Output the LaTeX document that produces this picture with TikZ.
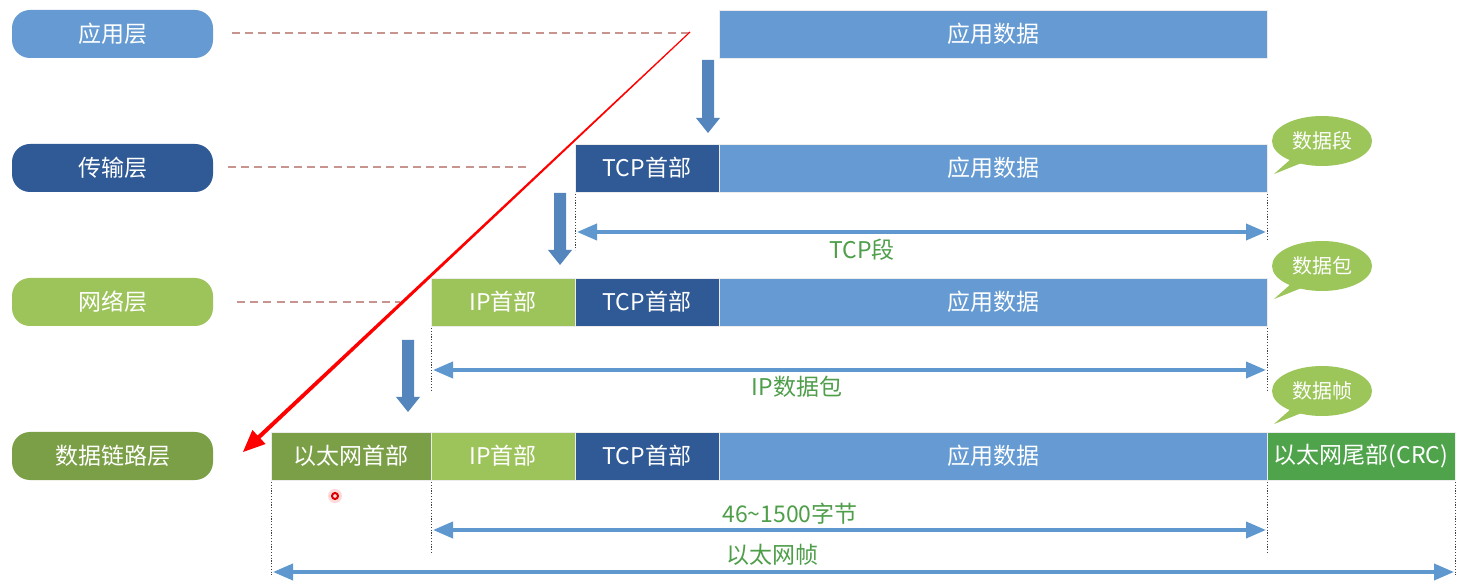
\documentclass[tikz,border=0pt]{standalone}
\usepackage{fontspec}
\setmainfont{Noto Sans CJK SC}
\usetikzlibrary{arrows.meta,shapes.geometric}
\definecolor{appblue}{HTML}{659BD2}
\definecolor{tcpblue}{HTML}{2F5A96}
\definecolor{ipgreen}{HTML}{9DC35B}
\definecolor{ethgreen}{HTML}{7B9F46}
\definecolor{crcgreen}{HTML}{4FA44B}
\definecolor{bubgreen}{HTML}{9CC55A}
\definecolor{barrow}{HTML}{5585BD}
\definecolor{darrow}{HTML}{5F97CF}
\definecolor{lblgreen}{HTML}{4E9E4A}
\definecolor{dashred}{HTML}{C8948F}
\tikzset{
  x=0.5pt, y=-0.5pt,
  box/.style={draw=white!85!gray, line width=0.4pt, text=white, font=\fontsize{11.5}{13}\selectfont, minimum height=24pt, inner sep=0pt, outer sep=0pt},
  pill/.style={rounded corners=9pt, text=white, font=\fontsize{11.5}{13}\selectfont, minimum height=24pt, minimum width=100.5pt, inner sep=0pt},
  layerdash/.style={dashred, line width=0.75pt, dash pattern=on 4pt off 2.6pt},
  dotline/.style={black!75, line width=0.5pt, dash pattern=on 0.6pt off 0.8pt},
  span/.style={darrow, line width=1.9pt, {Triangle[length=10pt,width=8pt]}-{Triangle[length=10pt,width=8pt]}, shorten <=0pt, shorten >=0pt},
  lbl/.style={text=lblgreen, font=\fontsize{11.5}{13}\selectfont, inner sep=0pt},
  bubtext/.style={text=white, font=\fontsize{10}{12}\selectfont, inner sep=0pt},
}
\newcommand\myblockarrow[3]{% x, ytop, ytip
  \fill[barrow] (#1-6,#2) -- (#1+6,#2) -- (#1+6,#3-15) -- (#1+12,#3-15) -- (#1,#3) -- (#1-12,#3-15) -- (#1-6,#3-15) -- cycle;}
\newcommand\mybubble[3]{% cx, cy, name
  \fill[bubgreen] (#1-30,#2+17) -- (#1-48,#2+33) -- (#1-18,#2+21) -- cycle;
  \fill[bubgreen] (#1,#2) ellipse [x radius=50, y radius=25];
  \node[bubtext] (#3) at (#1,#2) {\csname bub#3\endcsname};}
\begin{document}
\begin{tikzpicture}
\useasboundingbox (0,0) rectangle (1463,588);
\fill[white] (0,0) rectangle (1463,588);

% layer pills
\node[pill, fill=appblue] (Lapp) at (112.5,34) {应用层};
\node[pill, fill=tcpblue] (Ltcp) at (112.5,168) {传输层};
\node[pill, fill=ipgreen] (Lip) at (112.5,302) {网络层};
\node[pill, fill=ethgreen] (Leth) at (112.5,456) {数据链路层};

% row 1
\node[box, fill=appblue, minimum width=274pt] (D1) at (993,34) {应用数据};
% row 2
\node[box, fill=tcpblue, minimum width=72pt] (T2) at (647,168) {TCP首部};
\node[box, fill=appblue, minimum width=274pt] (D2) at (993,168) {应用数据};
% row 3
\node[box, fill=ipgreen, minimum width=72pt] (I3) at (503,302) {IP首部};
\node[box, fill=tcpblue, minimum width=72pt] (T3) at (647,302) {TCP首部};
\node[box, fill=appblue, minimum width=274pt] (D3) at (993,302) {应用数据};
% row 4
\node[box, fill=ethgreen, minimum width=80pt] (E4) at (351,456) {以太网首部};
\node[box, fill=ipgreen, minimum width=72pt] (I4) at (503,456) {IP首部};
\node[box, fill=tcpblue, minimum width=72pt] (T4) at (647,456) {TCP首部};
\node[box, fill=appblue, minimum width=274pt] (D4) at (993,456) {应用数据};
\node[box, fill=crcgreen, minimum width=94pt] (C4) at (1361,456) {以太网尾部(CRC)};

% dashed layer connectors
\coordinate (dA) at (690,33);
\coordinate (dT) at (530,167);
\coordinate (dI) at (400,302);
\draw[layerdash] (232,33) -- (dA);
\draw[layerdash] (228,167) -- (dT);
\draw[layerdash] (237,302) -- (dI);

% block arrows
\myblockarrow{708}{60}{133}
\myblockarrow{560}{193}{265}
\myblockarrow{408}{340}{412}

% dotted guides
\draw[dotline] (575,194) -- (575,250);
\draw[dotline] (1267,194) -- (1267,240);
\draw[dotline] (431,328) -- (431,392);
\draw[dotline] (1267,328) -- (1267,392);
\draw[dotline] (271,482) -- (271,575);
\draw[dotline] (431,482) -- (431,553);
\draw[dotline] (1267,482) -- (1267,553);
\draw[dotline] (1455,482) -- (1455,575);

% span arrows
\coordinate (s1a) at (577,232); \coordinate (s1b) at (1266,232);
\coordinate (s2a) at (433,370); \coordinate (s2b) at (1266,370);
\coordinate (s3a) at (433,530); \coordinate (s3b) at (1266,530);
\coordinate (s4a) at (273,572); \coordinate (s4b) at (1454,572);
\draw[span] (s1a) -- (s1b);
\draw[span] (s2a) -- (s2b);
\draw[span] (s3a) -- (s3b);
\draw[span] (s4a) -- (s4b);
\node[lbl] (l1) at (862,250) {TCP段};
\node[lbl] (l2) at (797,387) {IP数据包};
\node[lbl] (l3) at (790,514) {46\textasciitilde1500字节};
\node[lbl] (l4) at (772,555) {以太网帧};

% speech bubbles
\def\bubseg{数据段}\def\bubpkt{数据包}\def\bubfrm{数据帧}
\mybubble{1322}{141}{seg}
\mybubble{1322}{266}{pkt}
\mybubble{1322}{391}{frm}

% red annotation arrow
\coordinate (rS) at (690,32);
\coordinate (rT) at (243,452);
\fill[red] (690.4,32.4) -- (260.4,438.5) -- (265.6,444) -- (rT) -- (252.4,430) -- (257.6,435.5) -- (689.6,31.6) -- cycle;

% cursor dot
\fill[red!15] (335,496) circle [radius=7];
\draw[red!85!black, line width=1pt] (335,496) circle [radius=3];
\end{tikzpicture}
\end{document}
